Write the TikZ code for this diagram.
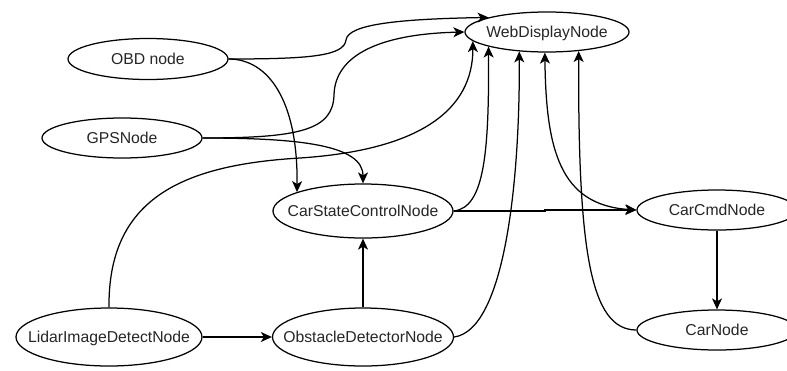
\documentclass[tikz,border=0pt]{standalone}
\usepackage{fontspec}
\setmainfont{Liberation Sans}
\usetikzlibrary{shapes.geometric,arrows.meta}
\begin{document}
\begin{tikzpicture}[x=1pt,y=-1pt,
  >={Stealth[length=11pt,width=10pt,inset=3pt]},
  nd/.style={ellipse, draw, line width=1.25pt, inner sep=0pt,
    text height=14pt, text depth=2.8pt,
    font=\fontsize{15.75}{19}\selectfont, text=black!85},
  link/.style={->, line width=1.25pt},
  both/.style={<->, line width=1.25pt}]
\useasboundingbox[fill=white] (0,0) rectangle (787,370);

% ROS nodes
\node[nd, minimum width=160pt, minimum height=41pt] (obd)   at (148,59)  {\makebox[0pt]{OBD node}};
\node[nd, minimum width=160pt, minimum height=40pt] (gps)   at (122,138) {\makebox[0pt]{GPSNode}};
\node[nd, minimum width=164pt, minimum height=40pt] (web)   at (547,32)  {\makebox[0pt]{WebDisplayNode}};
\node[nd, minimum width=180pt, minimum height=54pt] (csc)   at (363,211) {\makebox[0pt]{CarStateControlNode}};
\node[nd, minimum width=160pt, minimum height=40pt] (cmd)   at (717,210) {\makebox[0pt]{CarCmdNode}};
\node[nd, minimum width=160pt, minimum height=40pt] (car)   at (717,330) {\makebox[0pt]{CarNode}};
\node[nd, minimum width=186pt, minimum height=58pt] (lidar) at (109,337) {\makebox[0pt]{LidarImageDetectNode}};
\node[nd, minimum width=181pt, minimum height=58pt] (obs)   at (363,337) {\makebox[0pt]{ObstacleDetectorNode}};

% links into the web display
\draw[link] (obd.east) .. controls (310,59) and (344,56) .. (346,40)
            .. controls (348,24) and (400,19) .. (web.166);
\draw[link] (gps.east) .. controls (300,138) and (333,130) .. (334,95)
            .. controls (335,55) and (380,34) .. (web.west);
\draw[link] (lidar.north) .. controls (108,200) and (180,165) .. (300,158)
            .. controls (420,150) and (473,110) .. (web.187);
\draw[link] (csc.east) .. controls (485,208) and (489,150) .. (web.194);
\draw[link] (obs.east) .. controls (505,330) and (520,180) .. (web.215);
\draw[both] (web.264) .. controls (546,150) and (560,205) .. (cmd.west);
\draw[link] (car.west) .. controls (590,330) and (578,250) .. (web.-31);

% links into the state controller
\draw[link] (obd.east) .. controls (268,59) and (298,100) .. (csc.164);
\draw[link] (gps.east) .. controls (300,138) and (363,145) .. (csc.north);
\draw[link] (obs.north) -- (csc.south);

% straight links
\draw[link] (csc.east) -- (545,211) |- (cmd.west);
\draw[link] (cmd.south) -- (car.north);
\draw[link] (lidar.east) -- (obs.west);
\end{tikzpicture}
\end{document}
